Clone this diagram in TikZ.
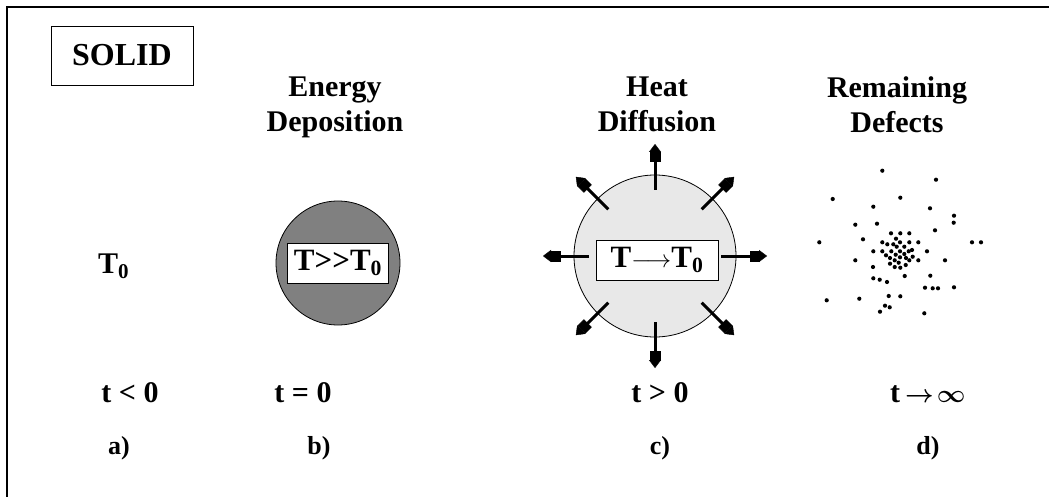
\documentclass[tikz,border=0pt]{standalone}
\usepackage{fontspec}
\setmainfont{Liberation Serif}
\usetikzlibrary{arrows.meta}

\begin{document}
\begin{tikzpicture}[
	x=1pt, y=-1pt,
	% Style for the bold labels below and beside the stages
	lbl/.style={
		font=\fontsize{30}{35}\selectfont\bfseries,
		inner sep=0pt
	},
	% Style for the stage titles
	head/.style={
		font=\fontsize{30}{35}\selectfont\bfseries,
		align=center,
		inner sep=0pt,
		anchor=north
	},
	tag/.style={
		font=\fontsize{26}{30}\selectfont\bfseries,
		inner sep=0pt,
		anchor=base
	},
	% Style for the framed texts
	tbox/.style={
		rectangle,
		draw=black,
		fill=white,
		line width=0.8pt,
		font=\fontsize{31}{35}\selectfont\bfseries,
		inner sep=0pt
	},
	ball/.style={
		circle,
		draw=black,
		line width=0.8pt,
		inner sep=0pt
	},
	flow/.style={
		line width=3pt,
		-{Rectangle[length=9pt,width=11pt,sep=0pt,line width=0.4pt]Triangle[length=8pt,width=12pt,sep=0pt,line width=0.4pt]}
	}
	]
	\useasboundingbox (0,0) rectangle (1049,497);
	% Outer frame
	\draw[line width=1.2pt] (7,497) -- (7,7) -- (1049,7);
	
	\node[tbox, minimum width=142pt, minimum height=59pt, font=\fontsize{32}{36}\selectfont\bfseries] (solid) at (122,55.5) {SOLID};
	
	% Stage titles
	\node[head] (energy) at (335,77) {Energy\\Deposition};
	\node[head] (heatdiff) at (657,77) {Heat\\Diffusion};
	\node[head] (remain) at (897,76) {Remaining\\Defects};
	
	% a) initial temperature
	\node[lbl, anchor=base west] (temp) at (98,273) {T\textsubscript{0}};
	
	% b) hot spot
	\node[ball, fill=gray, minimum size=124pt] (depo) at (338,263) {};
	\node[tbox, minimum width=101pt, minimum height=40pt] (hot) at (depo.center) {T>{}>T\textsubscript{0}};
	
	% c) cooling spot with outgoing heat
	\node[ball, fill=gray!18, minimum size=162pt] (heat) at (655,256) {};
	\node[tbox, minimum width=122pt, minimum height=40pt] (cool) at (657,260) {T$\longrightarrow$T\textsubscript{0}};
	\foreach \a in {0,45,...,315}{
		\draw[flow] ([shift={(\a:66)}]heat.center) -- ([shift={(\a:112)}]heat.center);
	}
	
	% d) defects left behind
	\foreach \px/\py in {882.3/170.7, 936/179.7, 832.7/199, 900.3/197.7, 873.3/206.7, 930/208.3, 954/215.7, 953.7/222.7, 855.3/224.7, 877/223.7, 935/230.3, 891/233.3, 900.3/233.3, 909.3/233.3, 863/239.3, 896/238.7, 819.3/242.3, 882.3/242.3, 887.3/244.3, 893.3/244.3, 900/242.3, 909.3/242.3, 918.3/242.3, 972/242.3, 981/242.3, 896.7/246.7, 904.3/246.7, 912/250, 908.7/251.3, 873.3/251.3, 882.3/251.3, 891.3/251.3, 900/251.3, 927/251.3, 886/255.3, 895.7/254.7, 904.3/254, 890/258, 900/257.3, 906/258, 912.7/256.7, 855.3/260.3, 894.7/260.3, 898.7/262.7, 909.3/260.3, 918.3/260.3, 945/260.3, 890/263.7, 905.7/265, 873/267, 894.7/267, 900.3/267.7, 904.7/276, 930.3/275.7, 873.3/278.3, 879.7/279.7, 887/282, 925/287.7, 932.7/288.3, 938/288.3, 954/287.3, 826.7/300.3, 859.3/298.7, 888.7/296, 900.3/296.3, 885/305.7, 889.7/307.3, 880/311.7, 924.3/313.3}{
		\fill (\px,\py) circle (2.1);
	}
	
	% Times
	\node[lbl, anchor=base] (ta) at (130,402) {t < 0};
	\node[lbl, anchor=base] (tb) at (303,402) {t = 0};
	\node[lbl, anchor=base] (tc) at (660,402) {t > 0};
	\node[lbl, anchor=base west] (td) at (890,402) {t\,{\boldmath$\rightarrow\!\infty$}};
	
	\node[tag] (la) at (119,454) {a)};
	\node[tag] (lb) at (319,454) {b)};
	\node[tag] (lc) at (660,454) {c)};
	\node[tag] (ld) at (928,454) {d)};
	
\end{tikzpicture}
\end{document}
